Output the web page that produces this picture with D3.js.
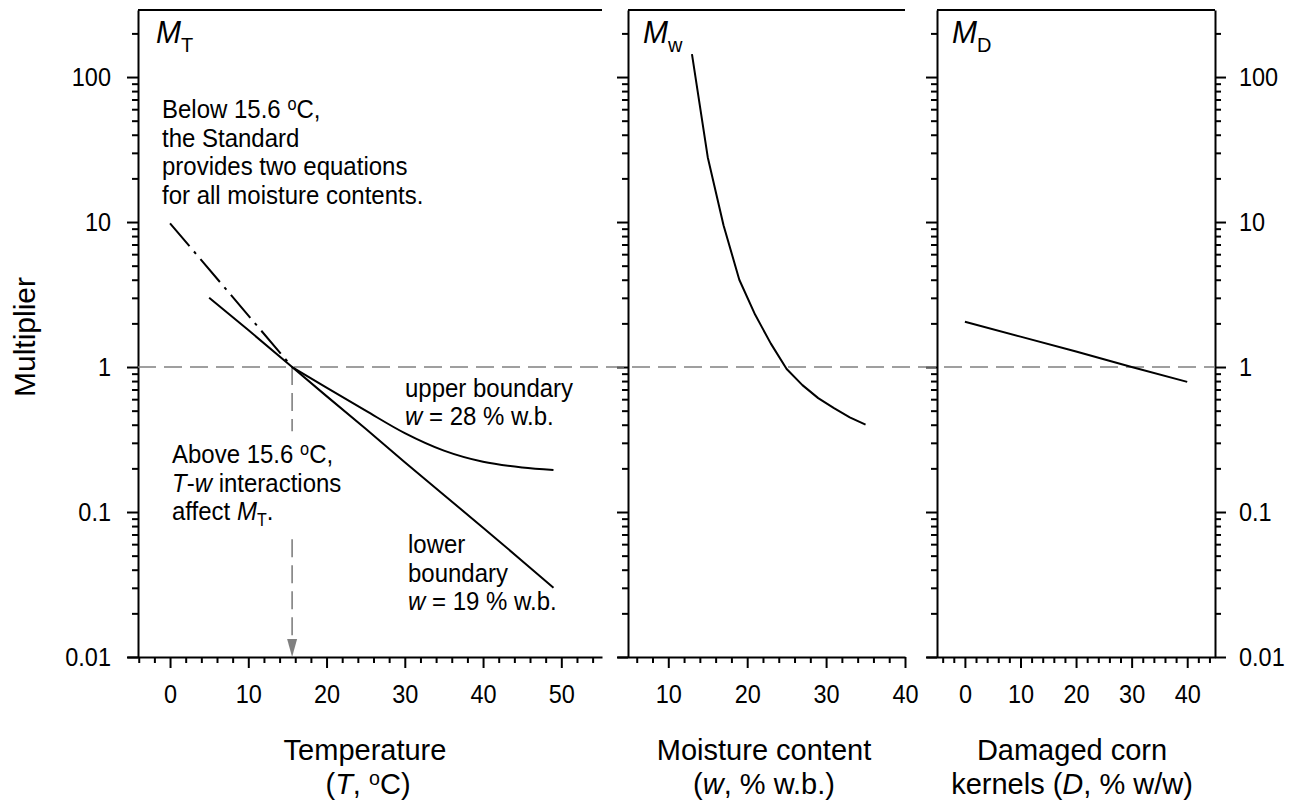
<!DOCTYPE html>
<html><head><meta charset="utf-8">
<script src="https://cdn.jsdelivr.net/npm/d3@7"></script>
<style>
body{margin:0;background:#fff}
svg text{font-family:"Liberation Sans",Arial,Helvetica,sans-serif;fill:#000}
</style>
</head><body>
<svg id="c" width="1295" height="806"></svg>
<script>
// ---------------- data ----------------
const tempDashDotT = [0, 15.6];
const tempDashDotM = [9.8, 1.0];
const tempLowerT = [5, 10, 15.6, 20, 25, 30, 35, 40, 45, 49];
const tempLowerM = [3.0, 1.8, 1.0, 0.63, 0.375, 0.22, 0.131, 0.078, 0.046, 0.030];
const tempUpperT = [15.6, 20, 25, 30, 35, 40, 45, 49];
const tempUpperM = [1.0, 0.72, 0.50, 0.35, 0.265, 0.222, 0.203, 0.195];
const moistW = [13, 15, 17, 19, 21, 23, 25, 27, 29, 31, 33, 35];
const moistM = [144, 28, 9.5, 4.0, 2.3, 1.45, 0.97, 0.75, 0.61, 0.52, 0.45, 0.40];
const damageD = [0, 10, 20, 30, 40];
const damageM = [2.05, 1.62, 1.28, 1.0, 0.79];
const yTickValues = [0.01, 0.1, 1, 10, 100];
const yTickLabels = ["0.01", "0.1", "1", "10", "100"];
const xTicksT = [0, 10, 20, 30, 40, 50];
const xTicksW = [10, 20, 30, 40];
const xTicksD = [0, 10, 20, 30, 40];
const refT = 15.6, refM = 1;
const arrowTopM = 0.36, arrowResumeM = 0.065;

// ---------------- layout ----------------
const svg = d3.select("#c");
const yTop = 10, yBot = 657;
const SY = 1.1; // vertical stretch of the lettering
const y = d3.scaleLog().domain([0.01, 290]).range([yBot, yTop]);
const xT = d3.scaleLinear().domain([-5.5, 55.2]).range([127, 602]);
const xW = d3.scaleLinear().domain([3.5, 40]).range([617, 905]);
const xD = d3.scaleLinear().domain([-7, 45]).range([926, 1215]);
const FS_TICK = 23.5, FS_ANN = 24, FS_TITLE = 29;
const majorLen = 11, minorLen = 6;
const minorY = y.ticks().filter(v => !yTickValues.includes(v));

function styleAxis(g) {
  g.selectAll("path.domain").attr("stroke", "#000").attr("stroke-width", 2);
  g.selectAll(".tick line").attr("stroke", "#000").attr("stroke-width", 2);
  g.selectAll("text").attr("font-size", FS_TICK).attr("font-family", '"Liberation Sans",Arial,sans-serif')
    .attr("fill", "#000").attr("transform", `scale(1,${SY})`);
  g.attr("font-size", null).attr("font-family", null);
}

function yAxis(px, side, labels) {
  const maj = (side === "left" ? d3.axisLeft(y) : d3.axisRight(y))
    .tickValues(yTickValues).tickSize(majorLen).tickSizeOuter(0)
    .tickPadding(side === "left" ? 16 : 13)
    .tickFormat((d, i) => labels ? yTickLabels[i] : "");
  const g = svg.append("g").attr("transform", `translate(${px},0)`).call(maj);
  styleAxis(g);
  const mn = (side === "left" ? d3.axisLeft(y) : d3.axisRight(y))
    .tickValues(minorY).tickSize(minorLen).tickSizeOuter(0).tickFormat("");
  const g2 = svg.append("g").attr("transform", `translate(${px},0)`).call(mn);
  styleAxis(g2);
  g2.select("path.domain").remove();
}

function xAxis(scale, majors, minors) {
  const g = svg.append("g").attr("transform", `translate(0,${yBot})`)
    .call(d3.axisBottom(scale).tickValues(majors).tickSize(majorLen).tickSizeOuter(0).tickPadding(14));
  styleAxis(g);
  const g2 = svg.append("g").attr("transform", `translate(0,${yBot})`)
    .call(d3.axisBottom(scale).tickValues(minors).tickSize(minorLen).tickSizeOuter(0).tickFormat(""));
  styleAxis(g2);
  g2.select("path.domain").remove();
}

function topLine(x0, x1) {
  svg.append("line").attr("x1", x0).attr("x2", x1).attr("y1", yTop).attr("y2", yTop)
    .attr("stroke", "#000").attr("stroke-width", 2);
}

const minorT = d3.range(-4, 55, 2).filter(v => v % 10 !== 0);
const minorW = d3.range(6, 40, 2).filter(v => v % 10 !== 0);
const minorD = d3.range(-4, 45, 2).filter(v => v % 10 !== 0);

// panel frames
const p1Left = 138, p2Left = 628, p3Left = 937, p3Right = 1215;
xAxis(xT, xTicksT, minorT);
xAxis(xW, xTicksW, minorW);
xAxis(xD, xTicksD, minorD);
yAxis(p1Left, "left", true);
yAxis(p2Left, "left", false);
yAxis(p3Left, "left", false);
yAxis(p3Right, "right", true);
topLine(p1Left, 602);
topLine(p2Left, 905);
topLine(p3Left, p3Right);

// reference lines
const gray = "#808080";
svg.append("line").attr("x1", p1Left).attr("x2", p3Right).attr("y1", y(refM)).attr("y2", y(refM))
  .attr("stroke", gray).attr("stroke-width", 1.6).attr("stroke-dasharray", "18,8");
svg.append("line").attr("x1", xT(refT)).attr("x2", xT(refT)).attr("y1", y(refM)).attr("y2", y(arrowTopM))
  .attr("stroke", gray).attr("stroke-width", 1.6).attr("stroke-dasharray", "18,8");
svg.append("line").attr("x1", xT(refT)).attr("x2", xT(refT)).attr("y1", y(arrowResumeM)).attr("y2", y(0.01) - 17)
  .attr("stroke", gray).attr("stroke-width", 1.6).attr("stroke-dasharray", "18,8");
const ax = xT(refT), ay = y(0.01);
svg.append("path").attr("d", `M${ax},${ay} L${ax - 5},${ay - 18} L${ax + 5},${ay - 18} Z`).attr("fill", gray);

// curves
function curve(xs, ys, sx, dash, smooth) {
  const pts = xs.map((v, i) => [sx(v), y(ys[i])]);
  const gen = d3.line();
  if (smooth) gen.curve(d3.curveMonotoneX);
  const p = svg.append("path").attr("d", gen(pts)).attr("fill", "none")
    .attr("stroke", "#000").attr("stroke-width", 2).attr("stroke-linejoin", "round");
  if (dash) p.attr("stroke-dasharray", dash);
}
curve(tempDashDotT, tempDashDotM, xT, "30,7,3,7");
curve(tempLowerT, tempLowerM, xT);
curve(tempUpperT, tempUpperM, xT, null, true);
curve(moistW, moistM, xW);
curve(damageD, damageM, xD);

// text helpers
function txt(x, yy, size, anchor, sy) {
  return svg.append("text").attr("transform", `translate(${x},${yy}) scale(1,${sy || SY})`)
    .attr("font-size", size).attr("text-anchor", anchor || "start");
}
function sup(t, size, rise) { // superscript "o"
  const r = rise || 7;
  t.append("tspan").attr("font-size", size * 0.68).attr("dy", -r).text("o");
  return t.append("tspan").attr("dy", r);
}

// panel labels
function panelLabel(x, sub) {
  const t = txt(x, 43, 30, "start", 1.05);
  t.append("tspan").attr("font-style", "italic").text("M");
  t.append("tspan").attr("font-size", 20).attr("dy", 9).text(sub);
}
panelLabel(156, "T");
panelLabel(643, "w");
panelLabel(952, "D");

// annotations left panel
let t = txt(162, 118, FS_ANN); t.append("tspan").text("Below 15.6 "); sup(t, FS_ANN).text("C,");
txt(162, 146.5, FS_ANN).text("the Standard");
txt(162, 175, FS_ANN).text("provides two equations");
txt(162, 203.5, FS_ANN).text("for all moisture contents.");

t = txt(172, 463, FS_ANN); t.append("tspan").text("Above 15.6 "); sup(t, FS_ANN).text("C,");
t = txt(172, 491.5, FS_ANN);
t.append("tspan").attr("font-style", "italic").text("T");
t.append("tspan").text("-");
t.append("tspan").attr("font-style", "italic").text("w");
t.append("tspan").text(" interactions");
t = txt(172, 520, FS_ANN);
t.append("tspan").text("affect ");
t.append("tspan").attr("font-style", "italic").text("M");
t.append("tspan").attr("font-size", 16).attr("dy", 5).text("T");
t.append("tspan").attr("dy", -5).text(".");

txt(405, 397, FS_ANN).text("upper boundary");
t = txt(405, 425, FS_ANN);
t.append("tspan").attr("font-style", "italic").text("w");
t.append("tspan").text(" = 28 % w.b.");
txt(408, 553, FS_ANN).text("lower");
txt(408, 581.5, FS_ANN).text("boundary");
t = txt(408, 610, FS_ANN);
t.append("tspan").attr("font-style", "italic").text("w");
t.append("tspan").text(" = 19 % w.b.");

// axis titles
const TL1 = 760, TL2 = 794;
txt(365, TL1, FS_TITLE, "middle", 1).text("Temperature");
t = txt(368, TL2, FS_TITLE, "middle", 1);
t.append("tspan").text("(");
t.append("tspan").attr("font-style", "italic").text("T");
t.append("tspan").text(", ");
sup(t, FS_TITLE, 9).text("C)");

txt(764, TL1, FS_TITLE, "middle", 1).text("Moisture content");
t = txt(764, TL2, FS_TITLE, "middle", 1);
t.append("tspan").text("(");
t.append("tspan").attr("font-style", "italic").text("w");
t.append("tspan").text(", % w.b.)");

txt(1072, TL1, FS_TITLE, "middle", 1).text("Damaged corn");
t = txt(1072, TL2, FS_TITLE, "middle", 1);
t.append("tspan").text("kernels (");
t.append("tspan").attr("font-style", "italic").text("D");
t.append("tspan").text(", % w/w)");

svg.append("text").attr("transform", "translate(35,337) rotate(-90)").attr("text-anchor", "middle")
  .attr("font-size", 30).text("Multiplier");
</script>
</body></html>
